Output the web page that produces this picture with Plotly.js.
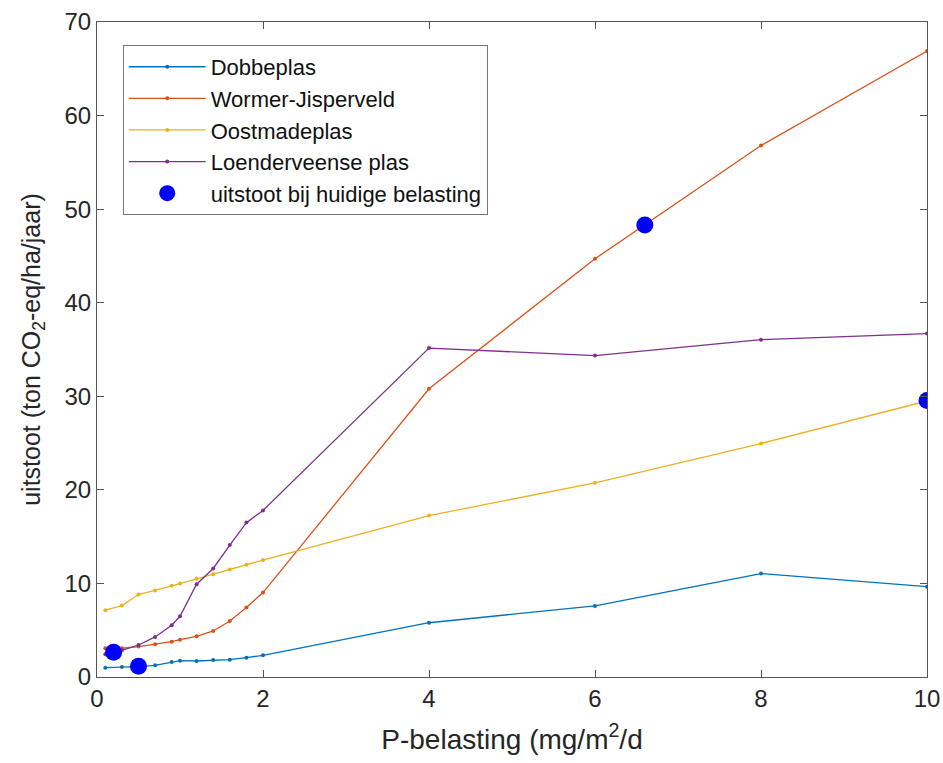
<!DOCTYPE html>
<html>
<head>
<meta charset="utf-8">
<script src="https://cdn.plot.ly/plotly-3.0.1.min.js"></script>
<style>html,body{margin:0;padding:0;background:#fff;}#chart{width:943px;height:763px;}</style>
</head>
<body>
<div id="chart"></div>
<script>
const xLoad = [0.1, 0.3, 0.5, 0.7, 0.9, 1.0, 1.2, 1.4, 1.6, 1.8, 2, 4, 6, 8, 10];
const dobbeplas = [1.0, 1.07, 1.1, 1.25, 1.6, 1.74, 1.71, 1.82, 1.85, 2.07, 2.32, 5.8, 7.6, 11.05, 9.65];
const wormer = [3.07, 3.07, 3.25, 3.5, 3.78, 3.99, 4.35, 4.92, 5.99, 7.42, 9.02, 30.8, 44.7, 56.8, 66.9];
const oostmade = [7.14, 7.63, 8.81, 9.24, 9.74, 9.98, 10.49, 10.99, 11.5, 12.0, 12.5, 17.25, 20.75, 24.95, 29.5];
const loender = [2.43, 2.85, 3.42, 4.28, 5.53, 6.49, 9.92, 11.6, 14.1, 16.5, 17.8, 35.15, 34.35, 36.05, 36.7];
const currentX = [0.2, 0.5, 6.6, 10];
const currentY = [2.65, 1.15, 48.3, 29.55];
const seriesNames = ['Dobbeplas', 'Wormer-Jisperveld', 'Oostmadeplas', 'Loenderveense plas'];
const seriesColors = ['#0072BD', '#D95319', '#EDB120', '#7E2F8E'];
const seriesData = [dobbeplas, wormer, oostmade, loender];
const xTicks = [0, 2, 4, 6, 8, 10];
const yTicks = [0, 10, 20, 30, 40, 50, 60, 70];

const traces = seriesData.map((ys, i) => ({
  x: xLoad, y: ys, type: 'scatter', mode: 'lines+markers', name: seriesNames[i],
  line: {color: seriesColors[i], width: 1.3},
  marker: {color: seriesColors[i], size: 4}
}));
traces.push({
  x: currentX, y: currentY, type: 'scatter', mode: 'markers',
  name: 'uitstoot bij huidige belasting',
  marker: {color: '#0000FF', size: 17}
});

const fontFam = 'Liberation Sans, Arial, sans-serif';
const axCommon = {
  showgrid: false, zeroline: false, showline: true, linecolor: '#555', linewidth: 1,
  mirror: 'ticks', ticks: 'inside', ticklen: 7, tickcolor: '#555', tickwidth: 1,
  tickfont: {family: fontFam, size: 24, color: '#262626'}
};
const layout = {
  width: 943, height: 763,
  margin: {l: 97, r: 16, t: 22, b: 86},
  paper_bgcolor: '#fff', plot_bgcolor: '#fff',
  font: {family: fontFam, color: '#262626'},
  xaxis: Object.assign({}, axCommon, {
    range: [0, 10], tickvals: xTicks, ticktext: xTicks.map(String),
    title: {text: 'P-belasting (mg/m<sup>2</sup>/d', font: {family: fontFam, size: 28, color: '#262626'}, standoff: 18}
  }),
  yaxis: Object.assign({}, axCommon, {
    range: [0, 70], tickvals: yTicks, ticktext: yTicks.map(String),
    title: {text: 'uitstoot (ton CO<sub>2</sub>-eq/ha/jaar)', font: {family: fontFam, size: 25, color: '#262626'}, standoff: 16}
  }),
  showlegend: true,
  legend: {
    x: 0.031, y: 0.965, xanchor: 'left', yanchor: 'top',
    bgcolor: '#fff', bordercolor: '#777', borderwidth: 1,
    font: {family: fontFam, size: 22, color: '#111'},
    tracegroupgap: 0, itemwidth: 77
  }
};
Plotly.newPlot('chart', traces, layout, {displayModeBar: false, staticPlot: true});
</script>
</body>
</html>
